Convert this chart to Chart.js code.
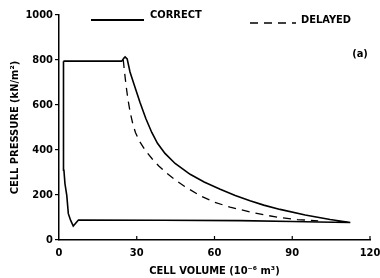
<!DOCTYPE html>
<html>
<head>
<meta charset="utf-8">
<script src="https://cdn.jsdelivr.net/npm/chart.js@4"></script>
<style>
    html, body { margin: 0; padding: 0; background: #fff; }
    #wrap { width: 380px; height: 278px; }
</style>
</head>
<body>
<div id="wrap"><canvas id="pvChart"></canvas></div>
<script>
// Values
const volumeTicks = [0, 30, 60, 90, 120];
const pressureTicks = [0, 200, 400, 600, 800, 1000];

const correctVolume = [1.7, 24.2, 25.0, 25.5, 26.3, 27.4, 29.0, 31.3, 33.5, 35.8, 38, 40.9, 44.8, 50.6, 56, 62.2, 68, 73.7, 79, 85.3, 95, 104.6, 112.4, 100, 90, 70, 40, 7.5, 5.5, 4.5, 3.6, 3.0, 2.3, 1.9, 1.8, 1.7, 1.7];
const correctPressure = [795, 795, 808, 814, 805, 747, 690, 610, 540, 478, 430, 385, 340, 292, 258, 226, 198, 174, 155, 136, 111, 91, 78, 80, 82, 86, 88, 89, 62, 87, 117, 198, 250, 310, 400, 500, 795];

const delayedVolume = [24.8, 25.3, 25.9, 26.6, 27.5, 28.5, 29.5, 31, 33.5, 36, 38.5, 41.6, 45, 48.5, 54.4, 60, 66, 73.7, 79, 85, 92, 100];
const delayedPressure = [800, 745, 685, 625, 565, 515, 478, 440, 395, 360, 329, 297, 266, 238, 197, 168, 146, 125, 112, 100, 91, 85];

const legendNames = ['CORRECT', 'DELAYED'];

const FONT = '"Liberation Sans Narrow", "DejaVu Sans Condensed", Arial, sans-serif';

function toPoints(xs, ys) {
    return xs.map((x, i) => ({ x: x, y: ys[i] }));
}

// legend inside the top of the frame, small upward x ticks, "(a)" tag
const extras = {
    id: 'extras',
    afterDraw(chart) {
        const ctx = chart.ctx;
        const xs = chart.scales.x;
        const area = chart.chartArea;
        ctx.save();
        ctx.strokeStyle = '#000';
        ctx.fillStyle = '#000';

        ctx.lineWidth = 1.2;
        volumeTicks.forEach(v => {
            if (v === 0) return;
            const px = xs.getPixelForValue(v);
            ctx.beginPath();
            ctx.moveTo(px, area.bottom);
            ctx.lineTo(px, area.bottom - 4);
            ctx.stroke();
        });

        // legend
        ctx.font = 'bold 11px ' + FONT;
        ctx.textBaseline = 'middle';
        ctx.textAlign = 'left';
        ctx.lineWidth = 2;
        ctx.setLineDash([]);
        ctx.beginPath();
        ctx.moveTo(91, 20);
        ctx.lineTo(144, 20);
        ctx.stroke();
        ctx.fillText(legendNames[0], 150, 15.5);

        ctx.lineWidth = 1.6;
        ctx.setLineDash([8, 6]);
        ctx.beginPath();
        ctx.moveTo(250, 23);
        ctx.lineTo(296, 23);
        ctx.stroke();
        ctx.setLineDash([]);
        ctx.fillText(legendNames[1], 301, 20);

        ctx.textAlign = 'center';
        ctx.fillText('(a)', 360, 54);
        ctx.restore();
    }
};

const ctx = document.getElementById('pvChart').getContext('2d');
new Chart(ctx, {
    type: 'scatter',
    data: {
        datasets: [{
            label: legendNames[0],
            data: toPoints(correctVolume, correctPressure),
            showLine: true,
            borderColor: '#000',
            backgroundColor: '#000',
            borderWidth: 1.6,
            pointRadius: 0,
            tension: 0
        }, {
            label: legendNames[1],
            data: toPoints(delayedVolume, delayedPressure),
            showLine: true,
            borderColor: '#000',
            backgroundColor: '#000',
            borderWidth: 1.3,
            borderDash: [8, 6],
            pointRadius: 0,
            tension: 0
        }]
    },
    options: {
        responsive: true,
        maintainAspectRatio: false,
        animation: false,
        layout: { padding: { top: 15, right: 10, left: 9, bottom: 0 } },
        plugins: {
            legend: { display: false },
            tooltip: { enabled: false }
        },
        scales: {
            x: {
                type: 'linear',
                min: 0,
                max: 120,
                afterBuildTicks: axis => { axis.ticks = volumeTicks.map(v => ({ value: v })); },
                afterFit: axis => {
                    axis.height = 38;
                    axis.paddingLeft = 0;
                    axis.paddingRight = 0;
                },
                grid: { display: true, drawOnChartArea: false, drawTicks: false },
                border: { color: '#000', width: 1.5 },
                ticks: { color: '#000', padding: 7, maxRotation: 0, callback: v => String(v), font: { family: FONT, size: 11, weight: 'bold' } },
                title: {
                    display: true,
                    text: 'CELL VOLUME (10⁻⁶ m³)',
                    color: '#000',
                    padding: { top: 0, bottom: 0 },
                    font: { family: FONT, size: 11, weight: 'bold' }
                }
            },
            y: {
                type: 'linear',
                min: 0,
                max: 1000,
                afterBuildTicks: axis => { axis.ticks = pressureTicks.map(v => ({ value: v })); },
                afterFit: axis => { axis.width = 50; },
                grid: { display: true, drawOnChartArea: false, drawTicks: true, tickLength: 4, color: '#000', lineWidth: 1.2 },
                border: { color: '#000', width: 1.5 },
                ticks: { color: '#000', padding: 2, callback: v => String(v), font: { family: FONT, size: 11, weight: 'bold' } },
                title: {
                    display: true,
                    text: 'CELL PRESSURE (kN/m²)',
                    color: '#000',
                    padding: { top: 0, bottom: 4 },
                    font: { family: FONT, size: 11, weight: 'bold' }
                }
            }
        }
    },
    plugins: [extras]
});
</script>
</body>
</html>
